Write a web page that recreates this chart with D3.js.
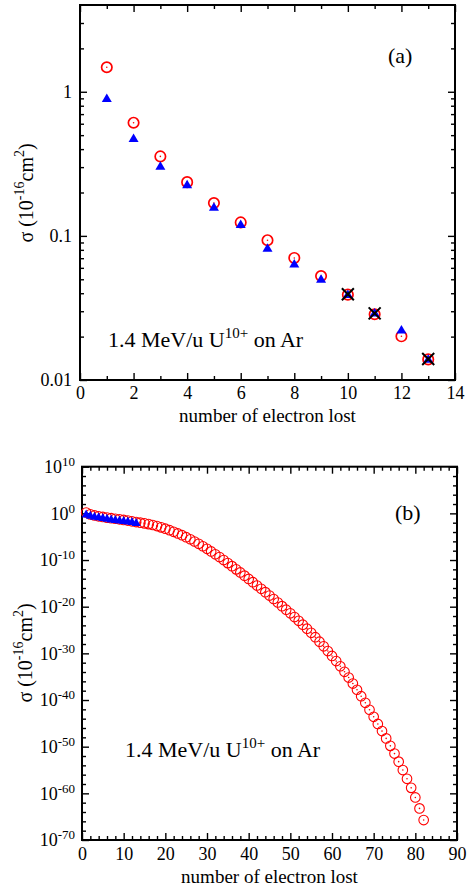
<!DOCTYPE html>
<html>
<head>
<meta charset="utf-8">
<script src="https://cdn.jsdelivr.net/npm/d3@7"></script>
<style>
  body { margin: 0; background: #fff; }
  svg text { font-family: "Liberation Serif", "Times New Roman", serif; fill: #000; }
</style>
</head>
<body>
<svg id="fig" width="472" height="888"></svg>
<script>
// ---- data -------------------------------------------------------------
// number of electrons lost, 1..13 (both calculations)
const nShort = [1, 2, 3, 4, 5, 6, 7, 8, 9, 10, 11, 12, 13];
// cross sections in units of 1e-16 cm^2
const sigmaRed = [1.48, 0.61, 0.356, 0.236, 0.169, 0.124, 0.0933, 0.0703, 0.0527, 0.0391, 0.0286, 0.0201, 0.0139];
const sigmaBlue = [0.91, 0.48, 0.308, 0.229, 0.160, 0.1215, 0.0830, 0.0646, 0.0506, 0.0396, 0.0295, 0.0225, 0.0141];
// measured points
const nMeasured = [10, 11, 13];
const sigmaMeasured = [0.0394, 0.0290, 0.0140];
// red calculation continued for 14..82 electrons lost (panel b)
const nTail = [14, 15, 16, 17, 18, 19, 20, 21, 22, 23, 24, 25, 26, 27, 28, 29, 30, 31, 32, 33, 34, 35, 36, 37, 38, 39, 40,
  41, 42, 43, 44, 45, 46, 47, 48, 49, 50, 51, 52, 53, 54, 55, 56, 57, 58, 59, 60, 61, 62, 63, 64, 65, 66, 67, 68, 69, 70,
  71, 72, 73, 74, 75, 76, 77, 78, 79, 80, 81, 82];
const sigmaRedTail = [1.02e-2, 7.2e-3, 5.0e-3, 3.2e-3, 1.9e-3, 1.0e-3, 5.2e-4, 2.5e-4, 1.1e-4, 5.0e-5, 2.1e-5, 7.9e-6,
  2.8e-6, 9.3e-7, 3.0e-7, 8.9e-8, 2.5e-8, 6.8e-9, 1.7e-9, 4.3e-10, 1.0e-10, 2.2e-11, 4.9e-12, 1.0e-12, 2.2e-13, 4.5e-14,
  8.9e-15, 1.8e-15, 3.5e-16, 6.8e-17, 1.3e-17, 2.4e-18, 4.4e-19, 7.8e-20, 1.3e-20, 2.3e-21, 3.8e-22, 6.0e-23, 9.3e-24,
  1.4e-24, 1.9e-25, 2.5e-26, 2.9e-27, 3.2e-28, 3.2e-29, 3.1e-30, 2.8e-31, 2.2e-32, 1.7e-33, 1.1e-34, 6.5e-36, 3.4e-37,
  1.6e-38, 6.6e-40, 2.5e-41, 8.1e-43, 2.5e-44, 7.4e-46, 2.2e-47, 6.0e-49, 1.5e-50, 3.3e-52, 6.2e-54, 9.8e-56, 1.3e-57,
  1.5e-59, 1.3e-61, 5.9e-64, 1.9e-66];

// axis ticks
const xTicksA = [0, 2, 4, 6, 8, 10, 12, 14];
const yTicksA = [0.01, 0.1, 1];
const yTickLabelsA = ["0.01", "0.1", "1"];
const xTicksB = [0, 10, 20, 30, 40, 50, 60, 70, 80, 90];
const yExponentsB = [10, 0, -10, -20, -30, -40, -50, -60, -70];

// ---- helpers ----------------------------------------------------------
const svg = d3.select("#fig");
const MAJ = 7, MIN = 4;

function zip(xs, ys) { return xs.map((x, i) => ({ n: x, s: ys[i] })); }

function axisGroup(g, axis, transform, labelled) {
  const a = g.append("g").attr("transform", transform).call(axis);
  a.select(".domain").remove();
  a.selectAll(".tick line").attr("stroke", "#000").attr("stroke-width", 1.4);
  if (!labelled) a.selectAll(".tick text").remove();
  return a;
}

function frame(g, x, y, xMaj, xMin, yMaj, yMin, opts) {
  const [x0, x1] = x.range();
  const [yb, yt] = y.range();
  // minor ticks on all four sides
  axisGroup(g, d3.axisBottom(x).tickValues(xMin).tickSize(-MIN).tickFormat(""), `translate(0,${yb})`, false);
  axisGroup(g, d3.axisTop(x).tickValues(xMin).tickSize(-MIN).tickFormat(""), `translate(0,${yt})`, false);
  axisGroup(g, d3.axisLeft(y).tickValues(yMin).tickSize(-MIN).tickFormat(""), `translate(${x0},0)`, false);
  axisGroup(g, d3.axisRight(y).tickValues(yMin).tickSize(-MIN).tickFormat(""), `translate(${x1},0)`, false);
  // major ticks
  const bx = axisGroup(g, d3.axisBottom(x).tickValues(xMaj).tickSize(-MAJ).tickPadding(opts.xPad), `translate(0,${yb})`, true);
  axisGroup(g, d3.axisTop(x).tickValues(xMaj).tickSize(-MAJ).tickFormat(""), `translate(0,${yt})`, false);
  const ly = axisGroup(g, d3.axisLeft(y).tickValues(yMaj).tickSize(-MAJ).tickPadding(opts.yPad).tickFormat(opts.yFormat), `translate(${x0},0)`, true);
  axisGroup(g, d3.axisRight(y).tickValues(yMaj).tickSize(-MAJ).tickFormat(""), `translate(${x1},0)`, false);
  bx.selectAll(".tick text").attr("font-size", 18).attr("font-family", "Liberation Serif, serif");
  ly.selectAll(".tick text").attr("font-size", 18).attr("font-family", "Liberation Serif, serif");
  // box
  g.append("rect").attr("x", x0).attr("y", yt).attr("width", x1 - x0).attr("height", yb - yt)
    .attr("fill", "none").attr("stroke", "#000").attr("stroke-width", 2);
  return { bx, ly };
}

function xLabel(g, x, yPos) {
  const [x0, x1] = x.range();
  g.append("text").attr("x", (x0 + x1) / 2).attr("y", yPos).attr("text-anchor", "middle")
    .attr("font-size", 19).text("number of electron lost");
}

function yLabel(g, cx, cy) {
  const t = g.append("text").attr("transform", `translate(${cx},${cy}) rotate(-90)`)
    .attr("text-anchor", "middle").attr("font-size", 20);
  t.append("tspan").text("σ (10");
  t.append("tspan").attr("font-size", 14).attr("dy", -9).text("-16");
  t.append("tspan").attr("dy", 9).text("cm");
  t.append("tspan").attr("font-size", 14).attr("dy", -9).text("2");
  t.append("tspan").attr("dy", 9).text(")");
}

function beamLabel(g, x, y) {
  const t = g.append("text").attr("x", x).attr("y", y).attr("font-size", 22);
  t.append("tspan").text("1.4 MeV/u U");
  t.append("tspan").attr("font-size", 15).attr("dy", -9).text("10+");
  t.append("tspan").attr("dy", 9).text(" on Ar");
}

function circles(g, x, y, data, r, sw) {
  const c = g.append("g").selectAll("g").data(data).join("g")
    .attr("transform", d => `translate(${x(d.n)},${y(d.s)})`);
  c.append("circle").attr("r", r).attr("fill", "none").attr("stroke", "#ff0000").attr("stroke-width", sw);
  c.append("circle").attr("r", 0.8).attr("fill", "#ff0000");
}

function triangles(g, x, y, data, w, h) {
  g.append("g").selectAll("path").data(data).join("path")
    .attr("transform", d => `translate(${x(d.n)},${y(d.s)})`)
    .attr("d", `M0,${-h / 2}L${w / 2},${h / 2}L${-w / 2},${h / 2}Z`)
    .attr("fill", "#0000ff");
}

function crosses(g, x, y, data, s) {
  g.append("g").selectAll("path").data(data).join("path")
    .attr("transform", d => `translate(${x(d.n)},${y(d.s)})`)
    .attr("d", `M${-s},${-s}L${s},${s}M${s},${-s}L${-s},${s}`)
    .attr("stroke", "#000").attr("stroke-width", 2).attr("fill", "none");
}

// ---- panel (a) --------------------------------------------------------
const xA = d3.scaleLinear().domain([0, 14]).range([80, 455]);
const yA = d3.scaleLog().domain([0.01, 4]).range([380, 5]);
const xMinorA = d3.range(1, 14, 2);
const yMinorA = [];
[0.01, 0.1, 1].forEach(dec => { for (let k = 2; k <= 9; k++) { const v = k * dec; if (v < 4) yMinorA.push(v); } });

const gA = svg.append("g");
frame(gA, xA, yA, xTicksA, xMinorA, yTicksA, yMinorA, {
  xPad: 6, yPad: 8, yFormat: d => yTickLabelsA[yTicksA.indexOf(d)]
});
circles(gA, xA, yA, zip(nShort, sigmaRed), 5.2, 1.7);
triangles(gA, xA, yA, zip(nShort, sigmaBlue), 10, 8.5);
crosses(gA, xA, yA, zip(nMeasured, sigmaMeasured), 6);
xLabel(gA, xA, 422);
yLabel(gA, 33, 193);
beamLabel(gA, 108, 347);
gA.append("text").attr("x", 388).attr("y", 63).attr("font-size", 22).text("(a)");

// ---- panel (b) --------------------------------------------------------
const xB = d3.scaleLinear().domain([0, 90]).range([82, 457]);
const yB = d3.scaleLog().domain([1e-70, 1e10]).range([840, 466.7]);
const xMinorB = d3.range(2, 90, 2).filter(v => v % 10 !== 0);
const yMajorB = yExponentsB.map(e => Math.pow(10, e));
const yMinorB = d3.range(-68, 10, 2).filter(e => e % 10 !== 0).map(e => Math.pow(10, e));

const gB = svg.append("g");
const axB = frame(gB, xB, yB, xTicksB, xMinorB, yMajorB, yMinorB, {
  xPad: 7, yPad: 7, yFormat: () => ""
});
axB.ly.selectAll(".tick text").each(function (d) {
  const t = d3.select(this);
  t.text(null);
  t.append("tspan").text("10");
  t.append("tspan").attr("font-size", 13).attr("dy", -7).text(String(Math.round(Math.log10(d))));
});
circles(gB, xB, yB, zip(nShort.concat(nTail), sigmaRed.concat(sigmaRedTail)), 4.8, 1.1);
triangles(gB, xB, yB, zip(nShort, sigmaBlue), 9, 8);
xLabel(gB, xB, 883);
yLabel(gB, 32, 653);
beamLabel(gB, 125, 757);
gB.append("text").attr("x", 395).attr("y", 520).attr("font-size", 22).text("(b)");
</script>
</body>
</html>
